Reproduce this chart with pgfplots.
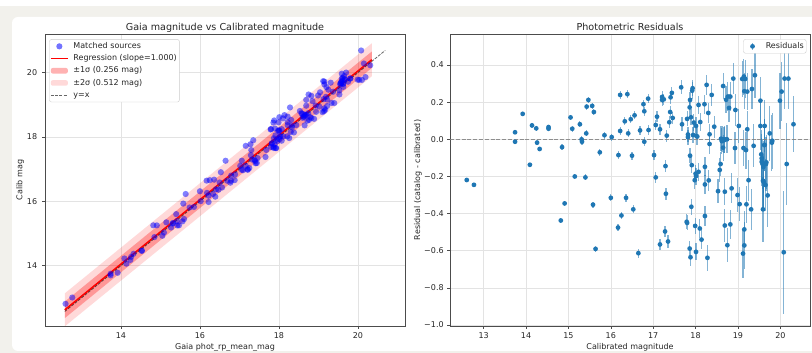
\documentclass[border=0pt]{standalone}
\usepackage{fontspec}
\setmainfont{DejaVu Sans}
\usepackage{pgfplots}
\usepackage{pgfplotstable}
\pgfplotsset{compat=1.18}
\definecolor{bgc}{HTML}{F2F1EC}
\definecolor{mplblue}{HTML}{1F77B4}

\pgfplotstableread{
x r e
12.60 -0.219 0.010
12.77 -0.245 0.010
13.74 0.038 0.012
13.74 -0.013 0.012
13.92 0.137 0.012
14.09 -0.137 0.012
14.14 0.075 0.012
14.24 0.059 0.012
14.26 -0.018 0.012
14.32 -0.052 0.012
14.53 0.066 0.013
14.53 0.057 0.013
14.82 -0.437 0.015
14.85 -0.042 0.015
14.91 -0.345 0.015
15.05 0.118 0.015
15.09 0.057 0.015
15.15 -0.200 0.015
15.27 0.081 0.016
15.31 0.000 0.016
15.32 -0.013 0.016
15.40 -0.205 0.016
15.42 0.032 0.016
15.43 0.176 0.016
15.47 0.212 0.016
15.56 0.180 0.017
15.58 -0.352 0.017
15.60 0.147 0.017
15.64 -0.590 0.018
15.74 -0.070 0.018
15.85 0.022 0.018
16.00 -0.315 0.019
16.02 0.012 0.019
16.17 -0.475 0.020
16.18 -0.085 0.020
16.22 0.239 0.020
16.22 0.045 0.020
16.25 -0.410 0.020
16.33 0.097 0.021
16.36 -0.315 0.021
16.39 0.243 0.021
16.41 0.032 0.021
16.47 0.108 0.022
16.50 -0.088 0.022
16.53 -0.377 0.022
16.56 0.129 0.022
16.65 -0.613 0.024
16.69 0.048 0.024
16.77 0.189 0.025
16.79 0.151 0.025
16.79 -0.013 0.025
16.88 0.219 0.026
16.89 0.050 0.026
17.02 -0.085 0.028
17.06 -0.205 0.028
17.06 0.077 0.028
17.09 0.122 0.028
17.16 0.054 0.030
17.16 -0.566 0.030
17.21 0.228 0.030
17.21 0.212 0.030
17.25 0.215 0.030
17.28 -0.496 0.032
17.29 -0.144 0.032
17.30 -0.293 0.032
17.32 0.020 0.032
17.35 -0.550 0.033
17.38 0.092 0.033
17.40 0.147 0.033
17.41 0.226 0.034
17.44 0.250 0.034
17.46 0.115 0.034
17.66 0.280 0.037
17.68 0.081 0.037
17.79 -0.444 0.040
17.80 -0.450 0.040
17.80 0.110 0.040
17.82 0.026 0.040
17.82 0.012 0.040
17.86 -0.588 0.042
17.86 0.172 0.042
17.87 0.212 0.042
17.87 -0.088 0.042
17.88 -0.635 0.045
17.89 0.119 0.043
17.90 -0.363 0.043
17.91 -0.139 0.043
17.92 0.262 0.044
17.93 0.275 0.044
17.94 0.023 0.044
17.96 0.090 0.045
17.98 -0.220 0.045
17.99 -0.466 0.045
18.00 -0.185 0.046
18.01 -0.606 0.046
18.01 -0.198 0.046
18.01 0.072 0.046
18.02 0.018 0.046
18.04 0.015 0.047
18.07 0.185 0.048
18.07 -0.175 0.048
18.10 -0.480 0.050
18.11 0.093 0.050
18.14 -0.540 0.050
18.21 0.189 0.052
18.22 -0.243 0.052
18.22 -0.413 0.052
18.22 -0.148 0.052
18.26 0.293 0.054
18.28 -0.638 0.070
18.30 0.142 0.055
18.31 -0.221 0.055
18.33 0.027 0.056
18.33 -0.025 0.056
18.38 0.239 0.058
18.44 0.068 0.060
18.53 -0.279 0.065
18.57 -0.165 0.066
18.59 -0.133 0.067
18.60 0.003 0.068
18.62 -0.010 0.070
18.64 0.000 0.070
18.65 0.287 0.070
18.65 -0.045 0.070
18.67 -0.005 0.070
18.69 0.000 0.072
18.69 -0.282 0.072
18.69 -0.464 0.088
18.72 0.213 0.074
18.74 0.000 0.075
18.75 -0.570 0.090
18.76 0.230 0.076
18.79 0.169 0.077
18.82 0.230 0.078
18.82 -0.458 0.080
18.85 -0.264 0.080
18.89 0.327 0.082
18.94 0.158 0.085
18.93 -0.047 0.085
18.99 -0.300 0.090
19.02 0.072 0.090
19.04 -0.349 0.092
19.10 0.325 0.095
19.12 -0.615 0.130
19.13 -0.047 0.095
19.14 0.338 0.097
19.15 0.259 0.097
19.15 -0.485 0.100
19.15 -0.571 0.125
19.17 0.325 0.100
19.19 -0.058 0.100
19.20 -0.350 0.100
19.22 0.054 0.100
19.22 0.257 0.100
19.25 -0.220 0.110
19.31 -0.377 0.110
19.33 0.271 0.110
19.37 -0.035 0.115
19.40 0.345 0.120
19.53 0.208 0.130
19.53 0.072 0.130
19.55 -0.081 0.130
19.56 -0.102 0.130
19.56 -0.121 0.130
19.58 -0.133 0.135
19.59 -0.377 0.175
19.59 -0.223 0.140
19.60 -0.149 0.140
19.61 -0.230 0.140
19.62 -0.031 0.140
19.63 0.072 0.140
19.63 -0.030 0.140
19.65 -0.246 0.140
19.66 -0.133 0.145
19.67 -0.124 0.145
19.70 -0.302 0.170
19.75 0.032 0.150
19.80 -0.018 0.150
19.81 -0.008 0.150
19.99 0.208 0.150
20.03 0.257 0.160
20.08 -0.608 0.330
20.10 0.327 0.165
20.15 -0.133 0.220
20.19 0.327 0.165
20.31 0.081 0.150
}\resid

\pgfplotsset{
  mystyle/.style={
    scale only axis, width=360pt, height=292pt, anchor=south west,
    axis line style={black!70, line width=0.7pt},
    tick style={black!70, line width=0.6pt},
    tick align=outside, major tick length=2.8pt, tick pos=left,
    grid=major, major grid style={black!11, line width=0.6pt},
    /pgf/number format/assume math mode=true,
    tick label style={font=\fontsize{8}{9.6}\selectfont, text=black!85},
    label style={font=\fontsize{8}{9.6}\selectfont, text=black!85},
    title style={font=\fontsize{9.6}{11.5}\selectfont, text=black!85, at={(axis description cs:0.5,1)}, anchor=base, yshift=-2.5pt},
    xlabel style={at={(axis description cs:0.5,-0.0788)}, anchor=base},
    legend style={font=\fontsize{8}{9.6}\selectfont, draw=black!20, rounded corners=2pt, fill=white,
      text=black!85, inner xsep=0.5pt, inner ysep=0.8pt, column sep=2.7pt,
      nodes={inner xsep=2pt, inner ysep=2.1pt, text height=6.1pt, text depth=1.9pt}},
    legend cell align=left,
  }
}

\begin{document}
\begin{tikzpicture}[x=1pt,y=1pt]
\path[use as bounding box] (0,0) rectangle (812,353);
\fill[bgc] (0,0) rectangle (812,347);
\fill[white, rounded corners=6pt] (12,2) rectangle (840,336);

\begin{axis}[mystyle, at={(45pt,27pt)},
  xmin=12.08, xmax=21.19, ymin=12.13, ymax=21.2,
  xtick={14,16,18,20}, xticklabels={14,16,18,20},
  ytick={14,16,18,20}, yticklabels={14,16,18,20},
  yticklabel style={xshift=-1.5pt},
  title={Gaia magnitude vs Calibrated magnitude},
  xlabel={Gaia phot\_rp\_mean\_mag},
  ylabel={Calib mag},
  ylabel style={at={(axis description cs:-0.063,0.5)}, anchor=base},
  legend style={at={(0.012,0.982)}, anchor=north west}]
% 2 sigma band
\addplot[draw=none, fill=red, fill opacity=0.15, forget plot] coordinates {(12.58,13.142) (20.35,20.912) (20.35,19.888) (12.58,12.118)};
% 1 sigma band
\addplot[draw=none, fill=red, fill opacity=0.3, forget plot] coordinates {(12.58,12.886) (20.35,20.656) (20.35,20.144) (12.58,12.374)};
% matched sources
\addplot[blue, only marks, mark=*, mark size=3.1pt, mark options={draw=blue, draw opacity=0, fill=blue, fill opacity=0.5}, forget plot]
  table[x=x, y expr=\thisrow{x}-\thisrow{r}] {\resid};
% regression
\addplot[red, line width=1.6pt, forget plot] coordinates {(12.58,12.63) (20.35,20.40)};
% y=x
\addplot[black, opacity=0.6, line width=0.8pt, dash pattern=on 3pt off 1.3pt, forget plot] coordinates {(12.58,12.58) (20.69,20.69)};

\addlegendimage{legend image code/.code={\path[draw=none] (0cm,-0.1cm) rectangle (0.6cm,0.1cm); \path[draw=none, fill=blue, fill opacity=0.55] (0.3cm,0cm) circle (3.1pt);}}
\addlegendentry{Matched sources}
\addlegendimage{legend image code/.code={\draw[red, line width=1.6pt] (0cm,0cm) -- (0.6cm,0cm);}}
\addlegendentry{Regression (slope=1.000)}
\addlegendimage{legend image code/.code={\path[draw=none, fill=red, fill opacity=0.3] (0cm,-2.8pt) rectangle (0.6cm,2.8pt);}}
\addlegendentry{±1σ (0.256 mag)}
\addlegendimage{legend image code/.code={\path[draw=none, fill=red, fill opacity=0.15] (0cm,-2.8pt) rectangle (0.6cm,2.8pt);}}
\addlegendentry{±2σ (0.512 mag)}
\addlegendimage{legend image code/.code={\draw[black, draw opacity=0.6, line width=0.8pt, dash pattern=on 3pt off 1.3pt] (0cm,0cm) -- (0.6cm,0cm);}}
\addlegendentry{y=x}
\end{axis}

\begin{axis}[mystyle, at={(450pt,27pt)},
  xmin=12.205, xmax=20.70, ymin=-1.005, ymax=0.567,
  xtick={13,14,15,16,17,18,19,20}, xticklabels={13,14,15,16,17,18,19,20},
  ytick={-1,-0.8,-0.6,-0.4,-0.2,0,0.2,0.4},
  yticklabels={−1.0,−0.8,−0.6,−0.4,−0.2,0.0,0.2,0.4},
  title={Photometric Residuals},
  xlabel={Calibrated magnitude},
  ylabel={Residual (catalog - calibrated)},
  ylabel style={at={(axis description cs:-0.0833,0.5)}, anchor=base},
  legend style={at={(0.99,0.982)}, anchor=north east}]
\addplot[mplblue, only marks, mark=*, mark size=2.4pt, mark options={draw opacity=0, fill=mplblue}, forget plot,
  error bars/.cd, y dir=both, y explicit, error mark=none,
  error bar style={mplblue, draw opacity=0.55, line width=1.2pt}]
  table[x=x, y=r, y error=e] {\resid};
\addplot[gray, draw opacity=0.85, line width=1.1pt, dash pattern=on 4pt off 1.8pt, forget plot] coordinates {(12.205,0) (20.70,0)};
\addlegendimage{legend image code/.code={\path[draw=none] (0cm,-0.1cm) rectangle (0.6cm,0.1cm); \draw[mplblue, draw opacity=0.55, line width=1.2pt] (0.3cm,-3.5pt) -- (0.3cm,3.5pt); \path[draw=none, fill=mplblue] (0.3cm,0cm) circle (2.4pt);}}
\addlegendentry{Residuals}
\end{axis}
\end{tikzpicture}
\end{document}
